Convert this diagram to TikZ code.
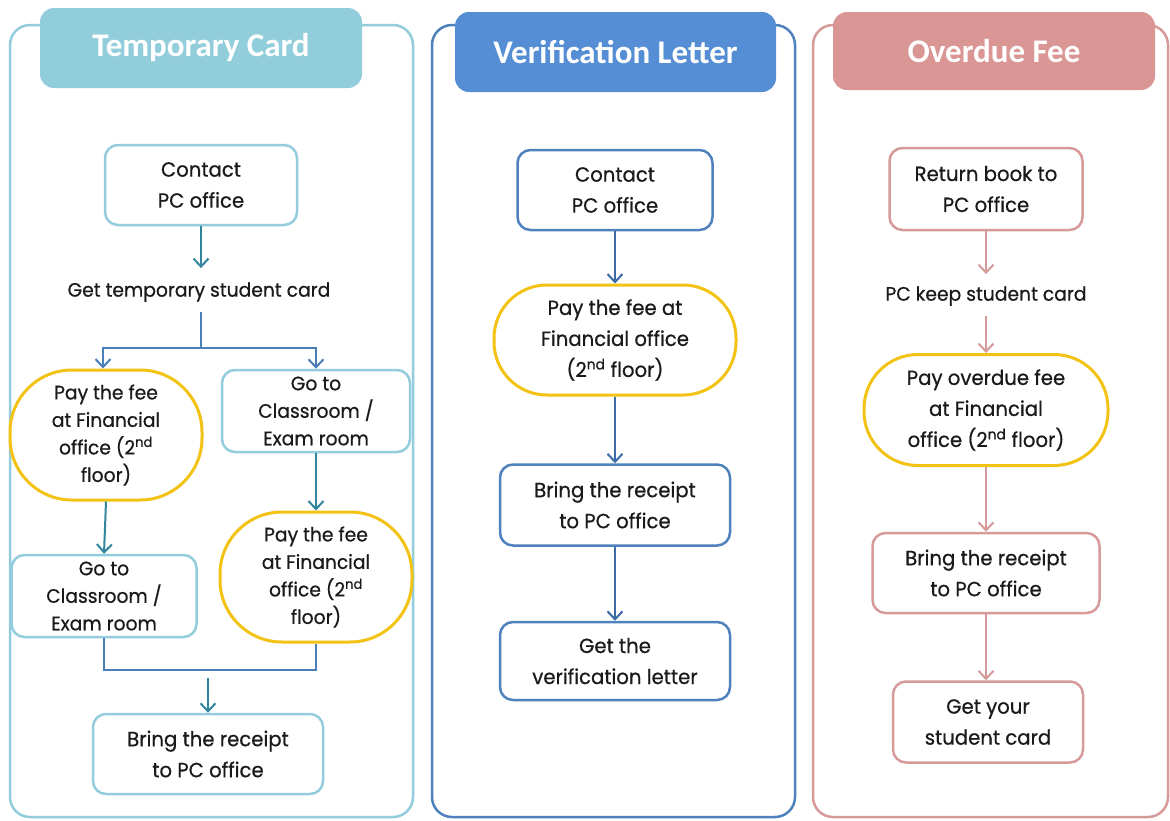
\documentclass[tikz,border=0pt]{standalone}
\usepackage{fontspec}
\setmainfont{Poppins}[FakeStretch=0.96,FakeBold=0.6]
\newfontfamily\headfont{Carlito}
\usetikzlibrary{arrows.meta}
\definecolor{tcfill}{HTML}{92CDDC}
\definecolor{tcline}{HTML}{93CDDD}
\definecolor{tcteal}{HTML}{31859C}
\definecolor{tcblue}{HTML}{4A7EBB}
\definecolor{vlfill}{HTML}{558ED5}
\definecolor{vlline}{HTML}{4F81BD}
\definecolor{vldark}{HTML}{3D6BA8}
\definecolor{odfill}{HTML}{D99694}
\definecolor{odline}{HTML}{D59A99}
\definecolor{ylw}{HTML}{F2C314}
\definecolor{txt}{HTML}{1A1A1A}
\tikzset{
  panel/.style={line width=2.5pt, rounded corners=20pt},
  head/.style={rounded corners=14pt, text=white, font=\headfont\bfseries\fontsize{33}{36}\selectfont, inner sep=0pt},
  stepbox/.style={draw, line width=2.5pt, rounded corners=13pt, align=center, inner sep=0pt, text=txt, fill=white,
    font=\fontsize{20.5}{31}\selectfont},
  smallbox/.style={stepbox, font=\fontsize{19.5}{27.5}\selectfont},
  paybox/.style={stepbox, draw=ylw, line width=3pt},
  plain/.style={inner sep=0pt, text=txt, font=\fontsize{19.5}{28}\selectfont},
  arr/.style={line width=2pt, -{Straight Barb[length=8pt,width=15pt,line width=2pt]}},
  ln/.style={line width=2pt},
}
\begin{document}
\begin{tikzpicture}[x=1pt,y=-1pt]
\useasboundingbox (0,0) rectangle (1170,820);
\fill[white] (0,0) rectangle (1170,820);
% panels
\draw[panel, draw=tcline] (10,25) rectangle (413,817);
\draw[panel, draw=vlline] (432,25) rectangle (795,817);
\draw[panel, draw=odline] (813,25) rectangle (1168,817);
\node[head, fill=tcfill, minimum width=322pt, minimum height=80pt] (h1) at (201,48) {Temporary Card};
\node[head, fill=vlfill, minimum width=321pt, minimum height=80pt] (h2) at (615.5,52) {Verification Letter};
\node[head, fill=odfill, minimum width=322pt, minimum height=78pt] (h3) at (994,51) {Overdue Fee};

% ---------- Temporary Card ----------
\node[stepbox, draw=tcline, minimum width=192pt, minimum height=80pt] (t1) at (201,185) {Contact\\PC office};
\node[plain] (t2) at (199,292) {Get temporary student card};
\node[paybox, minimum width=192pt, minimum height=130pt, rounded corners=62pt, font=\fontsize{19.5}{27.5}\selectfont] (p1) at (106,435) {Pay the fee\\at Financial\\office (2\textsuperscript{nd}\\floor)};
\node[smallbox, draw=tcline, minimum width=188pt, minimum height=82pt] (g1) at (316,411) {Go to\\Classroom /\\Exam room};
\node[smallbox, draw=tcline, minimum width=185pt, minimum height=82pt] (g2) at (104,596) {Go to\\Classroom /\\Exam room};
\node[paybox, minimum width=192pt, minimum height=130pt, rounded corners=62pt, font=\fontsize{19.5}{27.5}\selectfont] (p2) at (316,577) {Pay the fee\\at Financial\\office (2\textsuperscript{nd}\\floor)};
\node[stepbox, draw=tcline, minimum width=230pt, minimum height=80pt] (r1) at (208,754) {Bring the receipt\\to PC office};
\coordinate (b1) at (201,348);
\coordinate (j1) at (208,670);
\draw[arr, tcteal, shorten >=14pt] (t1.south) -- (t1.south |- t2.north);
\draw[ln, tcblue, shorten <=10pt] (b1 |- t2.south) -- (b1);
\draw[arr, tcblue] (b1) -| ([xshift=-3pt]p1.north);
\draw[arr, tcblue] (b1) -| (g1.north);
\draw[arr, tcteal] (p1.south) -- (g2.north);
\draw[arr, tcteal] (g1.south) -- (p2.north);
\draw[ln, tcblue] (g2.south) |- (j1) -| (p2.south);
\draw[arr, tcteal] ([yshift=-8pt]j1) -- (r1.north);

% ---------- Verification Letter ----------
\node[stepbox, draw=vlline, minimum width=195pt, minimum height=80pt] (v1) at (615,190) {Contact\\PC office};
\node[paybox, minimum width=242pt, minimum height=110pt, rounded corners=53pt] (v2) at (615,340) {Pay the fee at\\Financial office\\(2\textsuperscript{nd} floor)};
\node[stepbox, draw=vlline, minimum width=230pt, minimum height=81pt] (v3) at (615,505) {Bring the receipt\\to PC office};
\node[stepbox, draw=vlline, minimum width=230pt, minimum height=78pt] (v4) at (615,661) {Get the\\verification letter};
\draw[arr, vldark] (v1.south) -- (v2.north);
\draw[arr, vldark] (v2.south) -- (v3.north);
\draw[arr, vldark] (v3.south) -- (v4.north);

% ---------- Overdue Fee ----------
\node[stepbox, draw=odline, minimum width=193pt, minimum height=82pt] (o1) at (986,189) {Return book to\\PC office};
\node[plain] (o2) at (986,296) {PC keep student card};
\node[paybox, minimum width=244pt, minimum height=111pt, rounded corners=54pt] (o3) at (986,410) {Pay overdue fee\\at Financial\\office (2\textsuperscript{nd} floor)};
\node[stepbox, draw=odline, minimum width=227pt, minimum height=80pt] (o4) at (986,573) {Bring the receipt\\to PC office};
\node[stepbox, draw=odline, minimum width=190pt, minimum height=81pt] (o5) at (988,722) {Get your\\student card};
\draw[arr, odline, shorten >=12pt] (o1.south) -- (o2.north);
\draw[arr, odline, shorten <=10pt] (o2.south) -- (o3.north);
\draw[arr, odline] (o3.south) -- (o4.north);
\draw[arr, odline] (o4.south) -- (o4.south |- o5.north);
\end{tikzpicture}
\end{document}
